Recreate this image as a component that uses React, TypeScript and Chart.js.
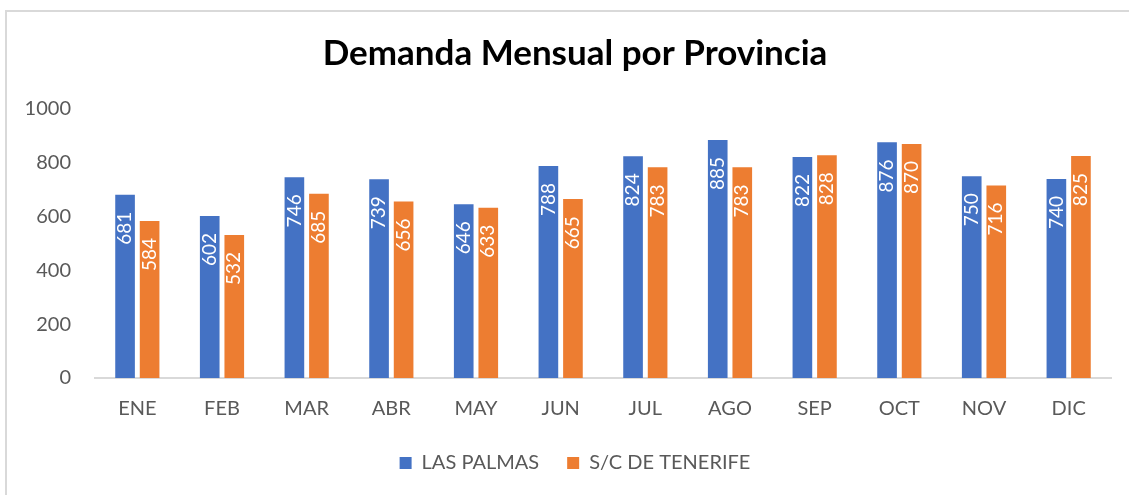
import React, { useEffect, useRef } from "react";
import { Chart, registerables } from "chart.js";

Chart.register(...registerables);

const categories = ["ENE", "FEB", "MAR", "ABR", "MAY", "JUN", "JUL", "AGO", "SEP", "OCT", "NOV", "DIC"];
const lasPalmas = [681, 602, 746, 739, 646, 788, 824, 885, 822, 876, 750, 740];
const tenerife = [584, 532, 685, 656, 633, 665, 783, 783, 828, 870, 716, 825];
const yTicks = [0, 200, 400, 600, 800, 1000];
const seriesNames = ["LAS PALMAS", "S/C DE TENERIFE"];
const seriesColors = ["#4472C4", "#ED7D31"];
const titleText = "Demanda Mensual por Provincia";

const FONT = "Lato";

const barLabels = {
  id: "barLabels",
  afterDatasetsDraw(chart: any) {
    const ctx = chart.ctx as CanvasRenderingContext2D;
    ctx.save();
    ctx.fillStyle = "#ffffff";
    ctx.font = `19px ${FONT}`;
    ctx.textAlign = "right";
    ctx.textBaseline = "middle";
    chart.data.datasets.forEach((ds: any, i: number) => {
      const meta = chart.getDatasetMeta(i);
      meta.data.forEach((bar: any, j: number) => {
        ctx.save();
        ctx.translate(bar.x, bar.y + 17);
        ctx.rotate(-Math.PI / 2);
        ctx.fillText(String(ds.data[j]), 0, 0);
        ctx.restore();
      });
    });
    ctx.restore();
  },
};

export default function App() {
  const ref = useRef<HTMLCanvasElement>(null);

  useEffect(() => {
    document.body.style.margin = "0";
    const chart = new Chart(ref.current as HTMLCanvasElement, {
      type: "bar",
      data: {
        labels: categories,
        datasets: [
          {
            label: seriesNames[0],
            data: lasPalmas,
            backgroundColor: seriesColors[0],
            categoryPercentage: 0.58,
            barPercentage: 0.8,
          },
          {
            label: seriesNames[1],
            data: tenerife,
            backgroundColor: seriesColors[1],
            categoryPercentage: 0.58,
            barPercentage: 0.8,
          },
        ],
      },
      options: {
        responsive: false,
        animation: false,
        devicePixelRatio: 1,
        layout: { padding: { left: 21, right: 0, top: 20, bottom: 12 } },
        plugins: {
          title: {
            display: true,
            text: titleText,
            color: "#000000",
            font: { family: FONT, size: 35, weight: "bold" },
            padding: { top: 13, bottom: 34 },
          },
          legend: {
            position: "bottom",
            labels: {
              boxWidth: 12,
              boxHeight: 12,
              color: "#595959",
              font: { family: FONT, size: 20 },
              padding: 28,
            },
          },
          tooltip: { enabled: false },
        },
        scales: {
          x: {
            grid: { display: false, drawTicks: false },
            border: { display: true, color: "#d9d9d9", width: 2 },
            ticks: { color: "#595959", font: { family: FONT, size: 20 }, padding: 19 },
            afterFit: (s: any) => {
              s.height = 47;
            },
          },
          y: {
            min: 0,
            max: 1000,
            afterBuildTicks: (s: any) => {
              s.ticks = yTicks.map((v) => ({ value: v }));
            },
            grid: { display: false, drawTicks: false },
            border: { display: false },
            ticks: {
              color: "#595959",
              font: { family: FONT, size: 20 },
              padding: 24,
              callback: (v: any) => String(v),
            },
            afterFit: (s: any) => {
              s.width = 74;
            },
          },
          y2: {
            position: "right",
            display: true,
            grid: { display: false, drawTicks: false },
            border: { display: false },
            ticks: { display: false },
            afterFit: (s: any) => {
              s.width = 18;
            },
          },
        },
      } as any,
      plugins: [barLabels],
    });
    return () => chart.destroy();
  }, []);

  return (
    <div style={{ position: "relative", width: 1129, height: 495, overflow: "hidden", background: "#ffffff" }}>
      <div
        style={{
          position: "absolute",
          left: 5,
          top: 10,
          width: 1300,
          height: 700,
          border: "2px solid #d9d9d9",
          boxSizing: "border-box",
        }}
      />
      <canvas
        ref={ref}
        width={1129}
        height={495}
        style={{ position: "absolute", left: 0, top: 0, width: 1129, height: 495 }}
      />
    </div>
  );
}
